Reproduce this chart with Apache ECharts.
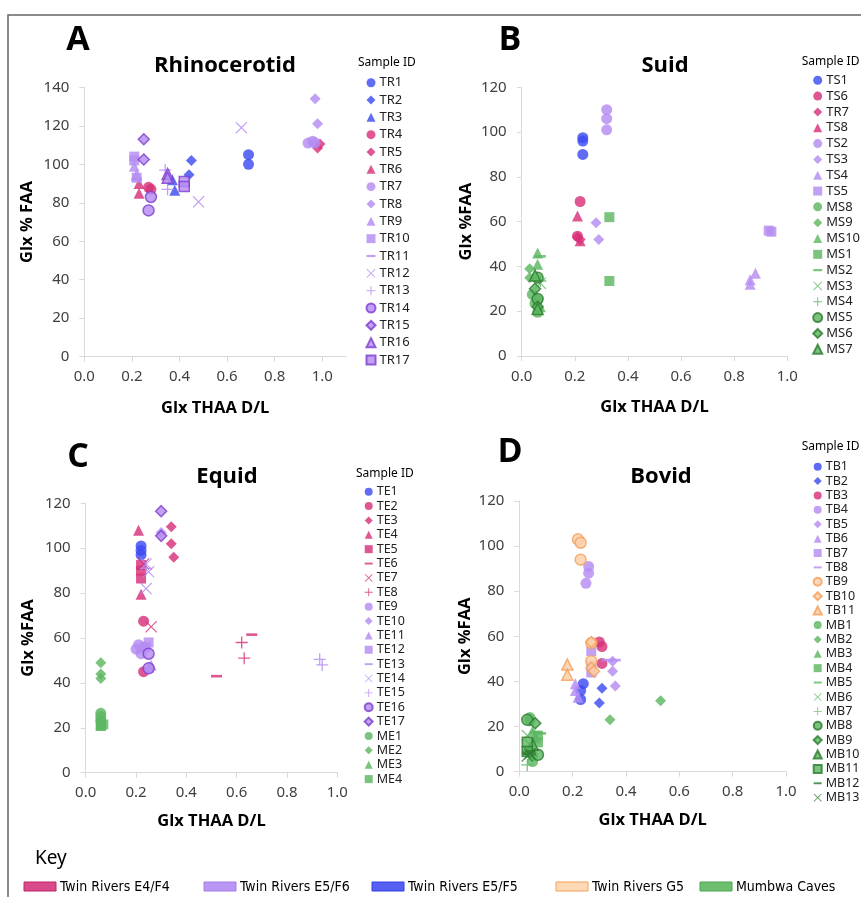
<!DOCTYPE html>
<html>
<head>
<meta charset="utf-8">
<script src="https://cdn.jsdelivr.net/npm/echarts@6/dist/echarts.min.js"></script>
<style>
  html, body { margin: 0; padding: 0; background: #fff; }
  #main { width: 861px; height: 897px; }
</style>
</head>
<body>
<div id="main"></div>
<script>
// tick labels shared by all four x axes
const xTicks = [0, 0.2, 0.4, 0.6, 0.8, 1.0];

// A - Rhinocerotid
const rhinoIds = ['TR1','TR2','TR3','TR4','TR5','TR6','TR7','TR8','TR9','TR10','TR11','TR12','TR13','TR14','TR15','TR16','TR17'];
const rhinoGroups = ['E5F5','E5F5','E5F5','E4F4','E4F4','E4F4','E5F6','E5F6','E5F6','E5F6','E5F6','E5F6','E5F6','E5F6','E5F6','E5F6','E5F6'];
const rhinoPoints = [
  [[0.69,105],[0.69,100]],
  [[0.45,102],[0.44,94.5]],
  [[0.37,92],[0.38,86.5]],
  [[0.27,88],[0.28,87]],
  [[0.99,110.5],[0.98,108.5]],
  [[0.23,85],[0.23,90]],
  [[0.94,111],[0.96,112],[0.97,111]],
  [[0.97,134],[0.98,121]],
  [[0.21,99],[0.22,95]],
  [[0.21,104],[0.21,102],[0.22,93]],
  [[0.22,92]],
  [[0.66,119],[0.48,80.5]],
  [[0.34,97],[0.35,87]],
  [[0.28,83],[0.27,76]],
  [[0.25,113],[0.25,102.5]],
  [[0.35,95],[0.35,93]],
  [[0.42,91],[0.42,88.5]]
];

// B - Suid
const suidIds = ['TS1','TS6','TR7 ','TS8','TS2','TS3','TS4','TS5','MS8','MS9','MS10','MS1','MS2','MS3','MS4','MS5','MS6','MS7'];
const suidGroups = ['E5F5','E4F4','E4F4','E4F4','E5F6','E5F6','E5F6','E5F6','MUM','MUM','MUM','MUM','MUM','MUM','MUM','MUM','MUM','MUM'];
const suidPoints = [
  [[0.23,97.5],[0.23,96],[0.23,90]],
  [[0.22,69],[0.21,53.5]],
  [[0.21,53],[0.22,52]],
  [[0.21,62.5],[0.22,51.5]],
  [[0.32,110],[0.32,106],[0.32,101]],
  [[0.28,59.5],[0.29,52]],
  [[0.88,37],[0.86,34],[0.86,32]],
  [[0.93,56],[0.94,55.5]],
  [[0.04,27.5],[0.05,23.5],[0.06,19.5],[0.06,25]],
  [[0.03,39],[0.03,35]],
  [[0.06,46],[0.06,41],[0.07,22]],
  [[0.33,62],[0.33,33.5]],
  [[0.07,44.5]],
  [[0.07,32.5]],
  [[0.07,33.5]],
  [[0.06,35],[0.06,25.5]],
  [[0.05,30],[0.06,22]],
  [[0.06,21],[0.05,36]]
];

// C - Equid
const equidIds = ['TE1','TE2','TE3','TE4','TE5','TE6','TE7','TE8','TE9','TE10','TE11','TE12','TE13','TE14','TE15','TE16','TE17','ME1','ME2','ME3','ME4'];
const equidGroups = ['E5F5','E4F4','E4F4','E4F4','E4F4','E4F4','E4F4','E4F4','E5F6','E5F6','E5F6','E5F6','E5F6','E5F6','E5F6','E5F6','E5F6','MUM','MUM','MUM','MUM'];
const equidPoints = [
  [[0.22,101],[0.22,99],[0.22,97]],
  [[0.23,67.5],[0.23,45]],
  [[0.34,109.5],[0.34,102],[0.35,96]],
  [[0.21,108],[0.22,79.5]],
  [[0.22,92.5],[0.22,86.5],[0.22,90]],
  [[0.52,43],[0.66,61.5]],
  [[0.26,65],[0.23,93]],
  [[0.62,58],[0.63,51]],
  [[0.21,57],[0.2,55],[0.22,53],[0.23,56]],
  [[0.3,107]],
  [[0.26,48],[0.25,47]],
  [[0.25,58],[0.24,56]],
  [[0.22,54]],
  [[0.24,93],[0.25,89.5],[0.24,82]],
  [[0.93,50.5],[0.94,48],[0.24,91]],
  [[0.25,53],[0.25,46.5]],
  [[0.3,116.5],[0.3,105.5]],
  [[0.06,26.5],[0.06,25],[0.06,23]],
  [[0.06,49],[0.06,44],[0.06,42]],
  [[0.06,22],[0.06,21]],
  [[0.06,22.5],[0.06,21],[0.07,21.5]]
];

// D - Bovid
const bovidIds = ['TB1','TB2','TB3','TB4','TB5','TB6','TB7','TB8','TB9','TB10','TB11','MB1','MB2','MB3','MB4','MB5','MB6','MB7','MB8','MB9','MB10','MB11','MB12','MB13'];
const bovidGroups = ['E5F5','E5F5','E4F4','E5F6','E5F6','E5F6','E5F6','E5F6','G5','G5','G5','MUM','MUM','MUM','MUM','MUM','MUM','MUM','MUM','MUM','MUM','MUM','MUMD','MUMD'];
const bovidPoints = [
  [[0.24,39],[0.23,36],[0.23,32]],
  [[0.31,37],[0.3,30.5]],
  [[0.3,57.5],[0.31,55.5],[0.31,48]],
  [[0.26,91],[0.26,88],[0.25,83.5]],
  [[0.35,49],[0.35,44.5],[0.36,38]],
  [[0.21,39],[0.22,33],[0.21,36]],
  [[0.27,53.5],[0.27,44],[0.27,47]],
  [[0.33,49.5],[0.36,49.5]],
  [[0.22,103],[0.23,101.5],[0.23,94],[0.27,57],[0.27,49]],
  [[0.27,46],[0.28,44.5],[0.27,57.5]],
  [[0.18,47.5],[0.18,43]],
  [[0.04,24],[0.04,22.5],[0.05,4.5],[0.05,7]],
  [[0.53,31.5],[0.34,23]],
  [[0.05,18],[0.06,15]],
  [[0.07,13],[0.07,16]],
  [[0.08,17],[0.06,17.5]],
  [[0.03,16],[0.04,12]],
  [[0.03,3],[0.04,10]],
  [[0.03,23],[0.07,7.5]],
  [[0.06,21.5]],
  [[0.04,10],[0.05,12]],
  [[0.03,13],[0.03,9]],
  [[0.03,8],[0.04,9]],
  [[0.03,7],[0.04,8]]
];

// marker shapes (upper case = outlined)
const rhinoShapes = ['o','d','t','o','d','t','o','d','t','s','-','x','+','O','D','T','S'];
const suidShapes = ['o','o','d','t','o','d','t','s','o','d','t','s','-','x','+','O','D','T'];
const equidShapes = ['o','o','d','t','s','-','x','+','o','d','t','s','-','x','+','O','D','o','d','t','s'];
const bovidShapes = ['o','d','o','o','d','t','s','-','o','d','t','o','d','t','s','-','x','+','O','D','T','S','-','x'];

const colors = { E4F4: '#D8327A', E5F6: '#B48CF2', E5F5: '#3E4CF2', G5: '#FDD0A8', MUM: '#5DB761', MUMD: '#2E7D32' };
const edge = { E5F6: '#7F3FD0', MUM: '#2E7D32', G5: '#F4A05A' };
const SYM = {
  o: 'circle', d: 'diamond', t: 'triangle', s: 'rect',
  '-': 'path://M0,0H10V2.4H0Z',
  x: 'path://M0.7,0L5,4.3L9.3,0L10,0.7L5.7,5L10,9.3L9.3,10L5,5.7L0.7,10L0,9.3L4.3,5L0,0.7Z',
  '+': 'path://M4.45,0H5.55V4.45H10V5.55H5.55V10H4.45V5.55H0V4.45H4.45Z'
};
const SIZE = { o: 11, d: 11, t: 11, s: 10, '-': 11, x: 12, '+': 12 };

const panels = [
  { ids: rhinoIds, groups: rhinoGroups, shapes: rhinoShapes, points: rhinoPoints, letter: 'A', title: 'Rhinocerotid',
    grid: { left: 84.3, top: 87.3, width: 261.8, height: 269.4 }, xMax: 1.1, yMax: 140, yName: 'Glx % FAA', yGap: 49, xGap: 43,
    letterPos: [78, 40], titlePos: [225, 66], sid: [358, 63], legend: { left: 365.5, first: 82.7, step: 17.33, font: 13, icon: 9 } },
  { ids: suidIds, groups: suidGroups, shapes: suidShapes, points: suidPoints, letter: 'B', title: 'Suid',
    grid: { left: 521.7, top: 87.3, width: 265.6, height: 268.7 }, xMax: 1.0, yMax: 120, yName: 'Glx %FAA', yGap: 47, xGap: 43,
    letterPos: [510, 40], titlePos: [665, 66], sid: [801.7, 62], legend: { left: 812.2, first: 80.3, step: 15.82, font: 13, icon: 9 } },
  { ids: equidIds, groups: equidGroups, shapes: equidShapes, points: equidPoints, letter: 'C', title: 'Equid',
    grid: { left: 85.7, top: 503.3, width: 251.6, height: 269.4 }, xMax: 1.0, yMax: 120, yName: 'Glx %FAA', yGap: 49, xGap: 40,
    letterPos: [78, 457], titlePos: [227, 477], sid: [356, 474], legend: { left: 363.7, first: 491.7, step: 14.37, font: 12.5, icon: 8 } },
  { ids: bovidIds, groups: bovidGroups, shapes: bovidShapes, points: bovidPoints, letter: 'D', title: 'Bovid',
    grid: { left: 519.3, top: 501, width: 266.7, height: 270.7 }, xMax: 1.0, yMax: 120, yName: 'Glx %FAA', yGap: 46, xGap: 40,
    letterPos: [510, 452], titlePos: [661, 477], sid: [801.7, 446.7], legend: { left: 812.7, first: 466.7, step: 14.39, font: 12.5, icon: 8 } }
];

const axisGray = '#D9D9D9';
const labelStyle = { color: '#404040', fontSize: 15, fontFamily: 'Noto Sans' };
const grids = [], xAxes = [], yAxes = [], legends = [], series = [], graphics = [];

function txt(x, y, text, font, align) {
  return { type: 'text', x: x, y: y, style: { text: text, font: font, fill: '#000',
    textAlign: align || 'center', align: align || 'center', textVerticalAlign: 'middle', verticalAlign: 'middle' } };
}

panels.forEach(function (p, i) {
  grids.push(Object.assign({ containLabel: false }, p.grid));
  xAxes.push({
    type: 'value', gridIndex: i, min: 0, max: p.xMax, interval: 0.2,
    name: 'Glx THAA D/L', nameLocation: 'middle', nameGap: p.xGap,
    nameTextStyle: { fontWeight: 'bold', fontSize: 16.5, color: '#000', fontFamily: 'Open Sans' },
    axisLine: { lineStyle: { color: axisGray } },
    axisTick: { show: true, length: 5, lineStyle: { color: axisGray }, customValues: xTicks },
    axisLabel: Object.assign({ margin: 13, customValues: xTicks, formatter: function (v) { return v.toFixed(1); } }, labelStyle),
    splitLine: { show: false }
  });
  yAxes.push({
    type: 'value', gridIndex: i, min: 0, max: p.yMax, interval: 20,
    name: p.yName, nameLocation: 'middle', nameGap: p.yGap,
    nameTextStyle: { fontWeight: 'bold', fontSize: 16.5, color: '#000', fontFamily: 'Open Sans' },
    axisLine: { show: true, lineStyle: { color: axisGray } },
    axisTick: { show: true, length: 5, lineStyle: { color: axisGray } },
    axisLabel: Object.assign({ margin: 15 }, labelStyle),
    splitLine: { show: false }
  });
  const L = p.legend;
  legends.push({
    orient: 'vertical', left: L.left, top: L.first - L.step / 2, padding: 0,
    itemGap: 0, itemWidth: L.icon, itemHeight: L.icon, selectedMode: false,
    textStyle: { fontSize: L.font, color: '#222', fontFamily: 'Noto Sans', lineHeight: L.step, padding: [0, 0, 0, -1] },
    data: p.ids.slice()
  });
  p.ids.forEach(function (id, j) {
    const g = p.groups[j];
    const sh = p.shapes[j];
    const low = sh.toLowerCase();
    const outlined = sh !== low || g === 'G5';
    series.push({
      type: 'scatter', name: id, xAxisIndex: i, yAxisIndex: i,
      symbol: SYM[low], symbolSize: SIZE[low], symbolKeepAspect: true,
      itemStyle: {
        color: colors[g], opacity: 0.82,
        borderColor: outlined ? edge[g] : 'transparent', borderWidth: outlined ? 1.5 : 0
      },
      emphasis: { disabled: true },
      data: p.points[j]
    });
  });
  graphics.push(txt(p.letterPos[0], p.letterPos[1], p.letter, 'bold 34px Open Sans'));
  graphics.push(txt(p.titlePos[0], p.titlePos[1], p.title, 'bold 22px Open Sans'));
  graphics.push(txt(p.sid[0], p.sid[1], 'Sample ID', '12px Noto Sans', 'left'));
});

// frame and key
graphics.push({ type: 'rect', shape: { x: 8, y: 15, width: 900, height: 900 }, style: { fill: 'none', stroke: '#666', lineWidth: 1.5 } });
graphics.push(txt(35, 859, 'Key', '19px Noto Sans', 'left'));
const keyNames = ['Twin Rivers E4/F4', 'Twin Rivers E5/F6', 'Twin Rivers E5/F5', 'Twin Rivers G5', 'Mumbwa Caves'];
const keyFill = ['#D94A8A', '#B995F4', '#5560F2', '#FDD9B5', '#6DBE6F'];
const keyStroke = ['#C0246A', '#A57FE8', '#3340E0', '#F4A05A', '#4FA552'];
const keyX = [24, 204, 372, 556, 700];
keyNames.forEach(function (n, k) {
  graphics.push({ type: 'rect', shape: { x: keyX[k], y: 882, width: 32, height: 9 }, style: { fill: keyFill[k], stroke: keyStroke[k], lineWidth: 1 } });
  graphics.push(txt(keyX[k] + 36, 887, n, "14px 'DejaVu Sans Condensed', 'Liberation Sans', sans-serif", 'left'));
});

const chart = echarts.init(document.getElementById('main'), null, { renderer: 'canvas' });
chart.setOption({
  backgroundColor: '#fff',
  animation: false,
  grid: grids,
  xAxis: xAxes,
  yAxis: yAxes,
  legend: legends,
  series: series,
  graphic: graphics
});
</script>
</body>
</html>
